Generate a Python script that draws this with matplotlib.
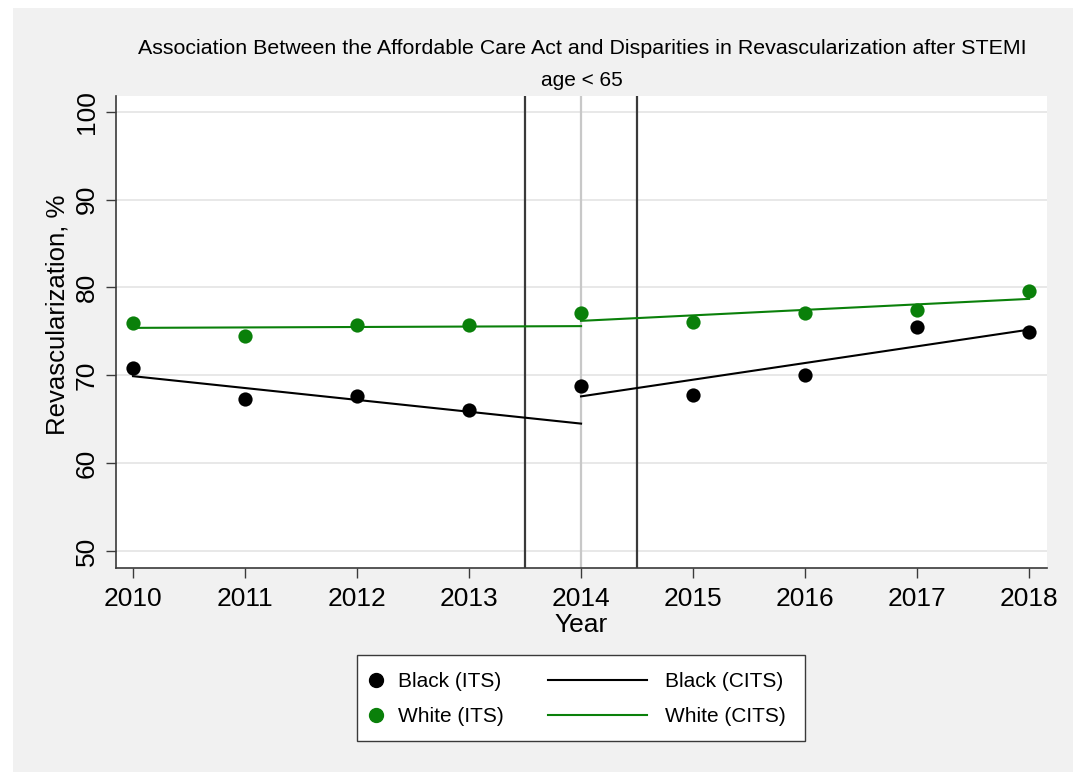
import matplotlib
matplotlib.use("Agg")
import matplotlib.pyplot as plt
from matplotlib.lines import Line2D
from matplotlib.patches import Rectangle

plt.rcParams['font.family'] = ['Liberation Sans', 'DejaVu Sans']

# observed yearly rates (ITS)
years = [2010, 2011, 2012, 2013, 2014, 2015, 2016, 2017, 2018]
black_obs = [70.8, 67.3, 67.7, 66.1, 68.8, 67.8, 70.0, 75.5, 74.9]
white_obs = [76.0, 74.5, 75.7, 75.7, 77.1, 76.1, 77.1, 77.4, 79.6]

# fitted segments (CITS), before and after the ACA
pre_years = [2010, 2014]
post_years = [2014, 2018]
black_fit_pre = [69.9, 64.5]
black_fit_post = [67.6, 75.2]
white_fit_pre = [75.4, 75.6]
white_fit_post = [76.2, 78.7]

# policy period markers
aca_bounds = [2013.5, 2014.5]
aca_year = 2014

yticks = [50, 60, 70, 80, 90, 100]

bg = '#f1f1f1'
green = '#0a800a'
dark = '#3a3a3a'

fig = plt.figure(figsize=(10.73, 7.72), dpi=100, facecolor='white')
fig.patches.append(Rectangle((13 / 1073, 0), 1, 1 - 8 / 772, transform=fig.transFigure,
                             facecolor=bg, edgecolor='none', zorder=-10))

ax = fig.add_axes([116 / 1073, 1 - 568 / 772, (1047 - 116) / 1073, (568 - 96) / 772])
ax.set_facecolor('white')

for yv in yticks:
    ax.axhline(yv, color='#e6e6e6', lw=1.3, zorder=0)

ax.axvline(aca_year, color='#c8c8c8', lw=1.6, zorder=1)
for xv in aca_bounds:
    ax.axvline(xv, color=dark, lw=1.6, zorder=1)

ax.plot(pre_years, black_fit_pre, color='black', lw=1.5, zorder=3)
ax.plot(post_years, black_fit_post, color='black', lw=1.5, zorder=3)
ax.plot(pre_years, white_fit_pre, color=green, lw=1.5, zorder=3)
ax.plot(post_years, white_fit_post, color=green, lw=1.5, zorder=3)

ax.scatter(years, black_obs, s=105, color='black', zorder=4, linewidths=0)
ax.scatter(years, white_obs, s=105, color=green, zorder=4, linewidths=0)

ax.set_xlim(2009.848, 2018.16)
ax.set_ylim(48.06, 101.8)
ax.set_xticks(years)
ax.set_yticks(yticks)
ax.set_xticklabels([str(y) for y in years], fontsize=19)
ax.set_yticklabels([str(v) for v in yticks], fontsize=19, rotation=90, va='center')
ax.tick_params(direction='out', length=7, width=1, color=dark)
ax.tick_params(axis='x', pad=7)
ax.tick_params(axis='y', pad=5.5)
for side in ['top', 'right']:
    ax.spines[side].set_visible(False)
for side in ['left', 'bottom']:
    ax.spines[side].set_color(dark)
    ax.spines[side].set_linewidth(1.2)

ax.set_xlabel('Year', fontsize=19)
ax.xaxis.set_label_coords(0.5, -(625 - 568) / 472)
ax.xaxis.label.set_va('center')
ax.set_ylabel('Revascularization, %', fontsize=18.5)
ax.yaxis.set_label_coords(-(116 - 57) / 931, (568 - 315) / 472)
ax.yaxis.label.set_va('center')

fig.text(582 / 1073, 1 - 49 / 772,
         'Association Between the Affordable Care Act and Disparities in Revascularization after STEMI',
         ha='center', va='center', fontsize=15.4)
fig.text(581.5 / 1073, 1 - 80 / 772, 'age < 65', ha='center', va='center', fontsize=15)

# legend box
fig.patches.append(Rectangle((357 / 1073, 1 - 741 / 772), (805 - 357) / 1073, (741 - 655) / 772,
                             transform=fig.transFigure, facecolor='white', edgecolor=dark,
                             lw=1.0, zorder=5))
mk_handles = [Line2D([], [], ls='none', marker='o', ms=10, color='black'),
              Line2D([], [], ls='none', marker='o', ms=10, color=green)]
ln_handles = [Line2D([], [], color='black', lw=1.5),
              Line2D([], [], color=green, lw=1.5)]
leg1 = fig.legend(mk_handles, ['Black (ITS)', 'White (ITS)'], loc='center left',
                  bbox_to_anchor=(366 / 1073, 1 - 699 / 772), frameon=False, fontsize=15,
                  handlelength=1.0, handletextpad=0.55, labelspacing=0.75, borderpad=0,
                  borderaxespad=0)
leg2 = fig.legend(ln_handles, ['Black (CITS)', 'White (CITS)'], loc='center left',
                  bbox_to_anchor=(548 / 1073, 1 - 699 / 772), frameon=False, fontsize=15,
                  handlelength=4.75, handletextpad=0.85, labelspacing=0.75, borderpad=0,
                  borderaxespad=0)
leg1.set_zorder(6)
leg2.set_zorder(6)

fig.savefig('out.png', dpi=100, facecolor=fig.get_facecolor())
